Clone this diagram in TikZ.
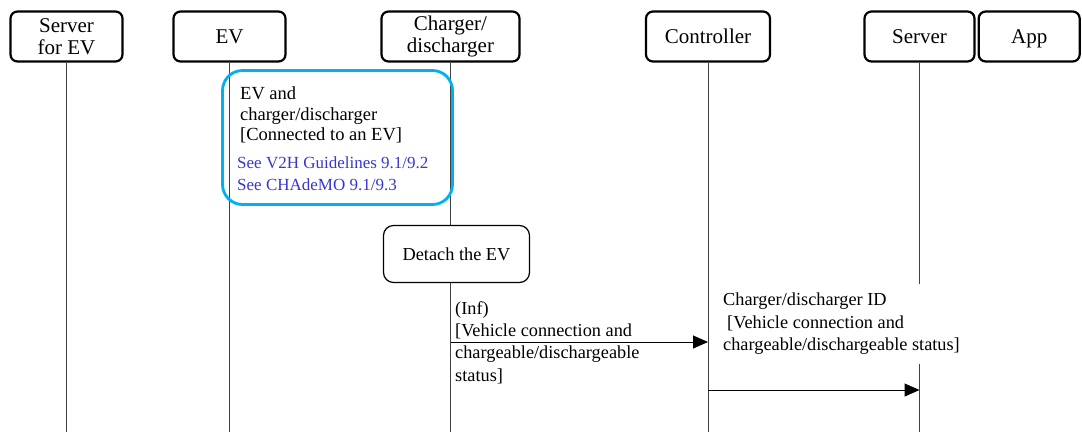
\documentclass[tikz,border=0pt]{standalone}
\usepackage{fontspec}
\setmainfont{Liberation Serif}
\usetikzlibrary{arrows.meta,positioning}

\definecolor{notecyan}{RGB}{0,176,240}
\definecolor{refblue}{RGB}{55,55,205}

\begin{document}
\begin{tikzpicture}[x=1pt,y=-1pt,
	actor box/.style	=	{draw=black,line width=2.2pt,rounded corners=7pt,minimum height=50pt,
								inner sep=0pt,align=center,font=\fontsize{21}{22}\selectfont},
	life line/.style	=	{draw=black!75,line width=0.9pt},
	note box/.style		=	{draw=notecyan,line width=2.8pt,rounded corners=20pt,inner sep=0pt},
	step box/.style		=	{draw=black,fill=white,line width=1.2pt,rounded corners=10pt,inner sep=0pt,
								font=\fontsize{18.3}{22}\selectfont},
	msg/.style			=	{draw=black,line width=1pt,-{Triangle[length=15pt,width=13pt]}},
	msg text/.style		=	{align=left,anchor=north west,inner sep=0pt,font=\fontsize{18.3}{22.4}\selectfont}]

	\useasboundingbox (0,0) rectangle (1082,432);

	% lane heads
	\node[actor box,minimum width=112pt] (srvev) at (66.5,36.5) {Server\\for EV};
	\node[actor box,minimum width=112pt] (ev)    at (229.5,36.5) {EV};
	\node[actor box,minimum width=138pt] (chg)   at (450.5,36.5) {Charger/\\discharger};
	\node[actor box,minimum width=124pt] (ctl)   at (708,36.5) {Controller};
	\node[actor box,minimum width=110pt] (srv)   at (919.5,36.5) {Server};
	\node[actor box,minimum width=101pt,text depth=0pt,right=2pt of srv] (app) {App};

	% life lines
	\coordinate (srvev end) at (srvev.south |- 0,432);
	\coordinate (ev end)    at (ev.south |- 0,432);
	\coordinate (chg end)   at (chg.south |- 0,432);
	\coordinate (ctl end)   at (ctl.south |- 0,432);
	\coordinate (srv end)   at (srv.south |- 0,432);
	\draw[life line] (srvev.south) -- (srvev end)	(ev.south) -- (ev end)	(chg.south) -- (chg end)
		(ctl.south) -- (ctl end)	(srv.south) -- (srv end);

	% state note
	\node[note box,minimum width=230pt,minimum height=134pt] (note) at (337.5,137.5) {};
	\node[msg text,font=\fontsize{18.5}{20.5}\selectfont] (note state) at (240,86.5)
		{EV and\\charger/discharger\\{}[Connected to an EV]};
	\node[msg text,text=refblue,font=\fontsize{17}{22}\selectfont] (note refs) at (237,156)
		{See V2H Guidelines 9.1/9.2\\See CHAdeMO 9.1/9.3};

	% detach step
	\node[step box,minimum width=146pt,minimum height=57pt] (detach) at (456.5,254) {Detach the EV};

	% messages
	\node[msg text,fill=white,inner xsep=4pt,inner ysep=9pt] (m2 text) at (719,284)
		{Charger/discharger ID\\\hspace*{4pt}[Vehicle connection and\\chargeable/dischargeable status]};
	\node[msg text] (m1 text) at (455,301)
		{(Inf)\\{}[Vehicle connection and\\chargeable/dischargeable\\status]};

	\coordinate (m1 start) at (chg end |- 0,342);
	\coordinate (m1 end)   at (ctl end |- 0,342);
	\coordinate (m2 start) at (ctl end |- 0,390);
	\coordinate (m2 end)   at (srv end |- 0,390);
	\draw[msg] (m1 start) -- (m1 end);
	\draw[msg] (m2 start) -- (m2 end);
\end{tikzpicture}
\end{document}
